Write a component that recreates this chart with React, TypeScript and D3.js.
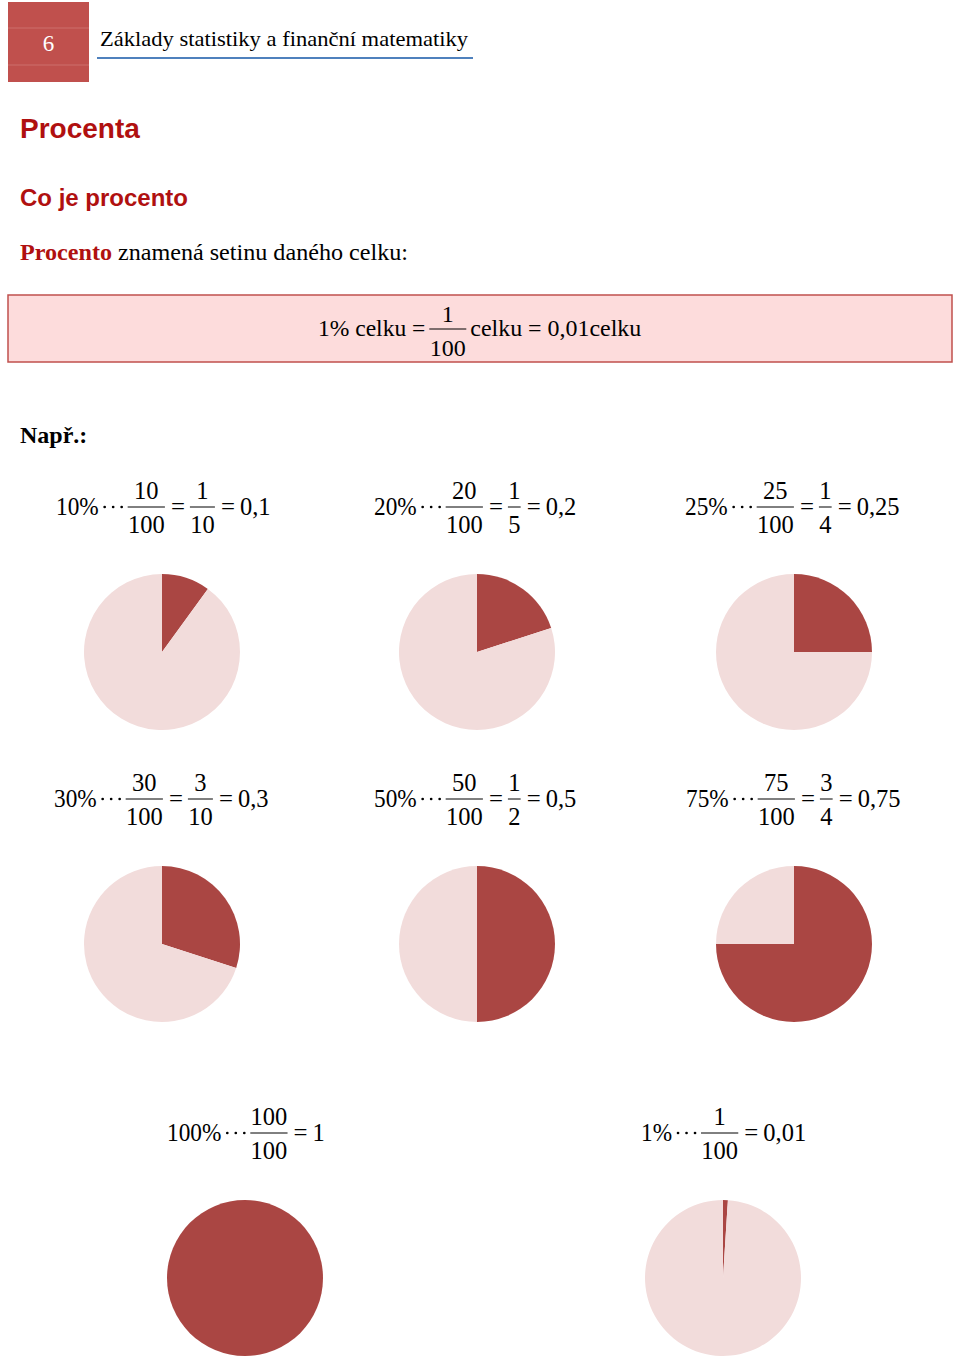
import React from "react";
import * as d3 from "d3";

// ---- data ----
const percents = [10, 20, 25, 30, 50, 75, 100, 1];
const fracNums = ["10", "20", "25", "30", "50", "75", "100", "1"];
const simpleNums = ["1", "1", "1", "3", "1", "3", "", ""];
const simpleDens = ["10", "5", "4", "10", "2", "4", "", ""];
const decimals = ["0,1", "0,2", "0,25", "0,3", "0,5", "0,75", "1", "0,01"];

// ---- layout ----
const W = 960;
const H = 1358;
const formulaX = [56, 374, 685, 54, 374, 686, 167, 641];
const formulaLineY = [507, 507, 507, 799, 799, 799, 1133, 1133];
const pieCX = [162, 477, 794, 162, 477, 794, 245, 723];
const pieCY = [652, 652, 652, 944, 944, 944, 1278, 1278];
const R = 78;

const DARK = "#aa4643";
const LIGHT = "#f2dcdb";
const RED_TEXT = "#b01010";
const SERIF = '"Liberation Serif", "Times New Roman", serif';
const SANS = '"Liberation Sans", Arial, sans-serif';

let ctx: CanvasRenderingContext2D | null = null;
function measure(text: string, size: number, weight = "normal") {
  if (!ctx) ctx = document.createElement("canvas").getContext("2d");
  if (!ctx) return text.length * size * 0.5;
  ctx.font = `${weight} ${size}px ${SERIF}`;
  return ctx.measureText(text).width;
}

type Piece = React.ReactNode;

function Formula({ i }: { i: number }) {
  const fs = 24.5;
  const ly = formulaLineY[i];
  const base = ly + 8;
  const numB = ly - 8;
  const denB = ly + 26;
  const parts: Piece[] = [];
  let x = formulaX[i];
  const txt = (s: string, tx: number, ty: number, anchor = "start", k = "") =>
    parts.push(
      <text key={k || `${s}-${tx}-${ty}`} x={tx} y={ty} fontSize={fs} fontFamily={SERIF} textAnchor={anchor} fill="#000">
        {s}
      </text>
    );
  const pct = `${percents[i]}%`;
  const pw = measure(pct, fs) * 0.95;
  parts.push(
    <text key="pct" x={x} y={base} fontSize={fs} fontFamily={SERIF} textLength={pw} lengthAdjust="spacingAndGlyphs">
      {pct}
    </text>
  );
  x += pw;
  x += 2;
  for (let d = 0; d < 3; d++) {
    parts.push(<circle key={`dot${d}`} cx={x + 4 + d * 8.5} cy={ly} r={1.35} fill="#000" />);
  }
  x += 27;
  const frac = (num: string, den: string, k: string) => {
    const w = Math.max(measure(num, fs), measure(den, fs)) + 0.5;
    parts.push(<line key={`l${k}`} x1={x} x2={x + w} y1={ly} y2={ly} stroke="#000" strokeWidth={1} />);
    txt(num, x + w / 2, numB, "middle", `n${k}`);
    txt(den, x + w / 2, denB, "middle", `d${k}`);
    x += w;
  };
  const eq = (k: string) => {
    x += 6;
    parts.push(
      <text key={`eq${k}`} x={x} y={base} fontSize={fs} fontFamily={SERIF} textLength={14} lengthAdjust="spacingAndGlyphs">
        =
      </text>
    );
    x += 14 + 5;
  };
  frac(fracNums[i], "100", "a");
  if (simpleNums[i]) {
    eq("a");
    frac(simpleNums[i], simpleDens[i], "b");
  }
  eq("b");
  txt(decimals[i], x, base, "start", "dec");
  return <g>{parts}</g>;
}

function Pie({ i }: { i: number }) {
  const pie = d3
    .pie<number>()
    .sort(null)
    .value((d) => d);
  const arcs = pie([percents[i], 100 - percents[i]]);
  const arc = d3.arc<d3.PieArcDatum<number>>().innerRadius(0).outerRadius(R);
  return (
    <g transform={`translate(${pieCX[i]},${pieCY[i]})`}>
      {arcs.map((a, j) =>
        a.value > 0 ? <path key={j} d={arc(a) || ""} fill={j === 0 ? DARK : LIGHT} /> : null
      )}
    </g>
  );
}

export default function App() {
  const boxFs = 24;
  const leftStr = "1% celku =";
  const rightStr = "celku = 0,01celku";
  const boxLineY = 329;
  const leftX = 318;
  const leftW = measure(leftStr, boxFs) * 0.98;
  const fracX = leftX + leftW + 4;
  const fracW = measure("100", boxFs) + 1;
  return (
    <svg width={W} height={H} style={{ position: "absolute", left: 0, top: 0, background: "#fff" }}>
      {/* header */}
      <rect x={8} y={2} width={81} height={80} fill="#c0504d" />
      <line x1={8} x2={89} y1={28} y2={28} stroke="#cd6f6c" strokeWidth={1} />
      <line x1={8} x2={89} y1={65} y2={65} stroke="#cd6f6c" strokeWidth={1} />
      <text x={48.5} y={51} fontSize={23} fontFamily={SERIF} fill="#fff" textAnchor="middle">
        6
      </text>
      <text x={100} y={46} fontSize={21} fontFamily={SERIF} fill="#000" textLength={368} lengthAdjust="spacingAndGlyphs">
        Základy statistiky a finanční matematiky
      </text>
      <line x1={97} x2={473} y1={58} y2={58} stroke="#4f81bd" strokeWidth={2} />

      {/* titles */}
      <text x={20} y={138} fontSize={28} fontWeight="bold" fontFamily={SANS} fill={RED_TEXT}>
        Procenta
      </text>
      <text x={20} y={206} fontSize={24} fontWeight="bold" fontFamily={SANS} fill={RED_TEXT}>
        Co je procento
      </text>
      <text x={20} y={260} fontSize={24} fontFamily={SERIF} fill="#000" textLength={388} lengthAdjust="spacingAndGlyphs">
        <tspan fontWeight="bold" fill={RED_TEXT}>
          Procento
        </tspan>{" "}
        znamená setinu daného celku:
      </text>

      {/* definition box */}
      <rect x={8} y={295} width={944} height={67} fill="#fddcdc" stroke="#c0504d" strokeWidth={1.5} />
      <text x={leftX} y={boxLineY + 7} fontSize={boxFs} fontFamily={SERIF} fill="#000" textLength={leftW} lengthAdjust="spacingAndGlyphs">
        {leftStr}
      </text>
      <line x1={fracX} x2={fracX + fracW} y1={boxLineY} y2={boxLineY} stroke="#000" strokeWidth={1} />
      <text x={fracX + fracW / 2} y={boxLineY - 7} fontSize={boxFs} fontFamily={SERIF} textAnchor="middle">
        1
      </text>
      <text x={fracX + fracW / 2} y={boxLineY + 27} fontSize={boxFs} fontFamily={SERIF} textAnchor="middle">
        100
      </text>
      <text x={fracX + fracW + 4} y={boxLineY + 7} fontSize={boxFs} fontFamily={SERIF} fill="#000" textLength={171} lengthAdjust="spacingAndGlyphs">
        {rightStr}
      </text>

      <text x={20} y={443} fontSize={24} fontWeight="bold" fontFamily={SERIF} fill="#000">
        Např.:
      </text>

      {percents.map((_, i) => (
        <g key={i}>
          <Formula i={i} />
          <Pie i={i} />
        </g>
      ))}
    </svg>
  );
}
